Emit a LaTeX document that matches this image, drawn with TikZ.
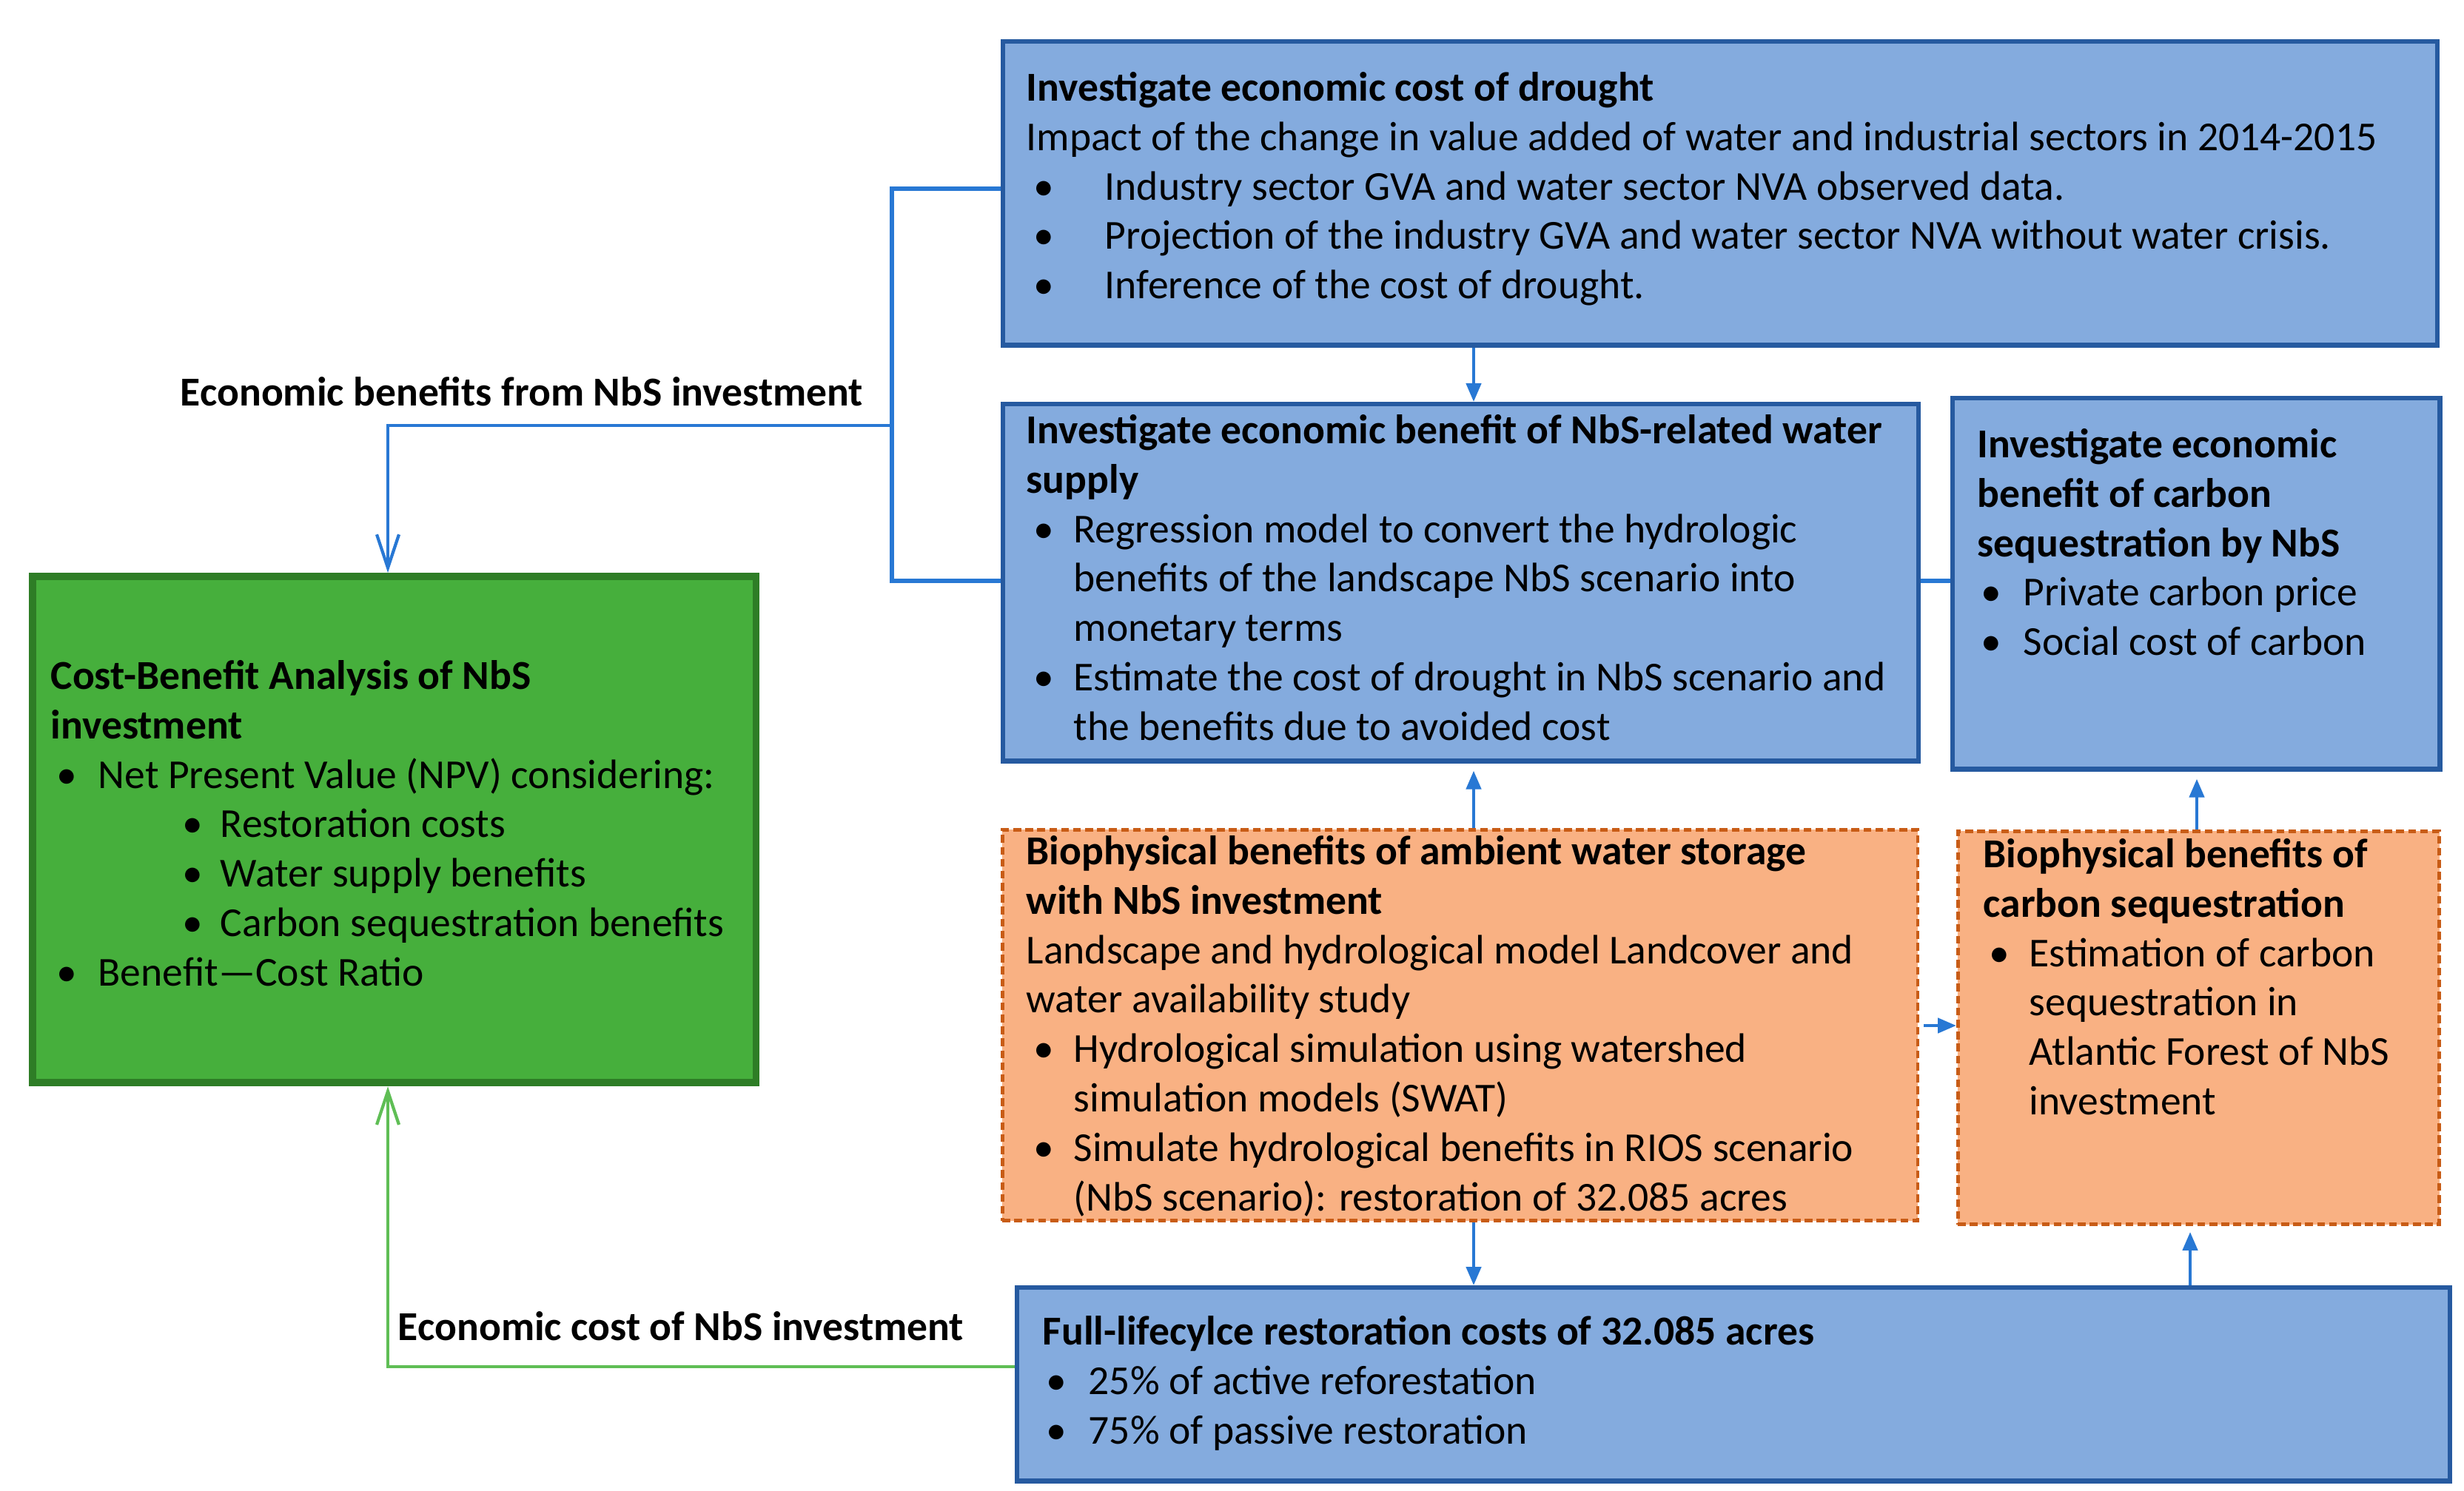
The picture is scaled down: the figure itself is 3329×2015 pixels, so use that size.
\documentclass[tikz,border=0pt]{standalone}
\usepackage{fontspec}
\setmainfont{Carlito}
\usetikzlibrary{arrows.meta}
\definecolor{bfill}{RGB}{132,171,222}
\definecolor{bdraw}{RGB}{38,90,160}
\definecolor{ofill}{RGB}{249,177,131}
\definecolor{odraw}{RGB}{200,92,22}
\definecolor{gfill}{RGB}{70,175,60}
\definecolor{gdraw}{RGB}{46,125,38}
\definecolor{cblue}{RGB}{40,120,212}
\definecolor{cgreen}{RGB}{95,190,85}
\newcommand\bul[3]{\hspace*{#1}\makebox[#2][l]{\textbullet}#3}
\begin{document}
\begin{tikzpicture}[x=0.01cm,y=-0.01cm,
  bluebox/.style={draw=bdraw, fill=bfill, line width=1.8pt, inner sep=0, anchor=north west},
  orangebox/.style={draw=odraw, fill=ofill, line width=1.3pt, dash pattern=on 3pt off 1.6pt, inner sep=0, anchor=north west},
  greenbox/.style={draw=gdraw, fill=gfill, line width=2.8pt, inner sep=0, anchor=north west},
  txt/.style={anchor=north west, inner sep=0, align=left, font=\fontsize{15.8}{19}\selectfont},
  lbl/.style={inner sep=0, font=\fontsize{15.8}{19}\selectfont\bfseries},
  link/.style={draw=cblue, line width=1.6pt},
  arr/.style={draw=cblue, line width=1.3pt, -{Triangle[length=0.25cm,width=0.2cm]}},
  oarr/.style={line width=1.2pt, -{Straight Barb[length=0.45cm,width=0.3cm]}}]
\useasboundingbox (0,0) rectangle (3329,2015);
% boxes
\node[bluebox, minimum width=19.37cm, minimum height=4.10cm] (A) at (1352,53) {};
\node[bluebox, minimum width=12.36cm, minimum height=4.82cm] (B) at (1352,543) {};
\node[bluebox, minimum width=6.58cm, minimum height=5.01cm] (C) at (2635,535) {};
\node[orangebox, minimum width=12.36cm, minimum height=5.28cm] (D) at (1352,1119) {};
\node[orangebox, minimum width=6.50cm, minimum height=5.31cm] (E) at (2643,1121) {};
\node[bluebox, minimum width=19.35cm, minimum height=2.61cm] (F) at (1371,1737) {};
\node[greenbox, minimum width=9.77cm, minimum height=6.84cm] (G) at (39,774) {};
% helper coordinates
\coordinate (xa) at (1205,0);
\coordinate (xg) at (524,0);
\coordinate (xm) at (1991,0);
\coordinate (xe1) at (2968,0);
\coordinate (xe2) at (2959,0);
\coordinate (ya) at (0,255);
\coordinate (yb) at (0,575);
\coordinate (ybm) at (0,785);
\coordinate (yd) at (0,1386);
\coordinate (yf) at (0,1847);
% connectors
\draw[link] (A.west |- ya) -| (xa |- ybm) -- (B.west |- ybm);
\draw[link, oarr] (xa |- yb) -| (G.north -| xg);
\draw[link] (B.east |- ybm) -- (C.west |- ybm);
\draw[arr] (A.south -| xm) -- (B.north -| xm);
\draw[arr, shorten >=0.1cm] (D.north -| xm) -- (B.south -| xm);
\draw[arr] (D.south -| xm) -- (F.north -| xm);
\draw[arr, shorten <=0.06cm] (D.east |- yd) -- (E.west |- yd);
\draw[arr, shorten >=0.1cm] (E.north -| xe1) -- (C.south -| xe1);
\draw[arr, shorten >=0.08cm] (F.north -| xe2) -- (E.south -| xe2);
\draw[draw=cgreen, oarr] (F.west |- yf) -| (G.south -| xg);
% labels
\node[lbl] (l1) at (705,529) {Economic benefits from NbS investment};
\node[lbl] (l2) at (920,1792) {Economic cost of NbS investment};
% texts
\node[txt] (tA) at (1386,89) {\strut\textbf{Investigate economic cost of drought}\\
Impact of the change in value added of water and industrial sectors in 2014-2015\\
\bul{0.1cm}{0.96cm}{Industry sector GVA and water sector NVA observed data.}\\
\bul{0.1cm}{0.96cm}{Projection of the industry GVA and water sector NVA without water crisis.}\\
\bul{0.1cm}{0.96cm}{Inference of the cost of drought.}};
\node[txt] (tB) at (1386,552) {\strut\textbf{Investigate economic benefit of NbS-related water}\\
\textbf{supply}\\
\bul{0.1cm}{0.54cm}{Regression model to convert the hydrologic}\\
\hspace*{0.64cm}benefits of the landscape NbS scenario into\\
\hspace*{0.64cm}monetary terms\\
\bul{0.1cm}{0.54cm}{Estimate the cost of drought in NbS scenario and}\\
\hspace*{0.64cm}the benefits due to avoided cost};
\node[txt] (tC) at (2671,571) {\strut\textbf{Investigate economic}\\
\textbf{benefit of carbon}\\
\textbf{sequestration by NbS}\\
\bul{0.05cm}{0.57cm}{Private carbon price}\\
\bul{0.05cm}{0.57cm}{Social cost of carbon}};
\node[txt] (tD) at (1386,1121) {\strut\textbf{Biophysical benefits of ambient water storage}\\
\textbf{with NbS investment}\\
Landscape and hydrological model Landcover and\\
water availability study\\
\bul{0.1cm}{0.54cm}{Hydrological simulation using watershed}\\
\hspace*{0.64cm}simulation models (SWAT)\\
\bul{0.1cm}{0.54cm}{Simulate hydrological benefits in RIOS scenario}\\
\hspace*{0.64cm}(NbS scenario): restoration of 32.085 acres};
\node[txt] (tE) at (2679,1125) {\strut\textbf{Biophysical benefits of}\\
\textbf{carbon sequestration}\\
\bul{0.08cm}{0.54cm}{Estimation of carbon}\\
\hspace*{0.62cm}sequestration in\\
\hspace*{0.62cm}Atlantic Forest of NbS\\
\hspace*{0.62cm}investment};
\node[txt] (tF) at (1408,1770) {\strut\textbf{Full-lifecylce restoration costs of 32.085 acres}\\
\bul{0.05cm}{0.57cm}{25\% of active reforestation}\\
\bul{0.05cm}{0.57cm}{75\% of passive restoration}};
\node[txt] (tG) at (68,884) {\strut\textbf{Cost-Benefit Analysis of NbS}\\
\textbf{investment}\\
\bul{0.08cm}{0.56cm}{Net Present Value (NPV) considering:}\\
\bul{1.78cm}{0.51cm}{Restoration costs}\\
\bul{1.78cm}{0.51cm}{Water supply benefits}\\
\bul{1.78cm}{0.51cm}{Carbon sequestration benefits}\\
\bul{0.08cm}{0.56cm}{Benefit—Cost Ratio}};
\end{tikzpicture}
\end{document}
